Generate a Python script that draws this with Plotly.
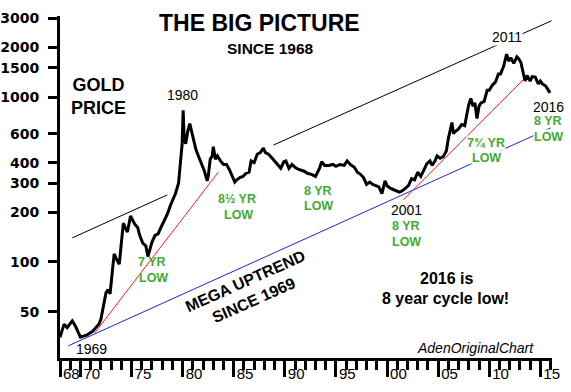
import plotly.graph_objects as go
import math

# ---------------- data ----------------
years = [1968.0, 1968.2, 1968.4, 1968.7, 1969.0, 1969.2, 1969.5, 1969.8, 1970.0, 1970.3,
         1970.6, 1970.9, 1971.2, 1971.5, 1971.8, 1972.0, 1972.3, 1972.5, 1972.7, 1972.9,
         1973.1, 1973.3, 1973.5, 1973.8, 1974.0, 1974.2, 1974.4, 1974.6, 1974.9, 1975.1,
         1975.3, 1975.6, 1975.8, 1976.1, 1976.4, 1976.6, 1976.8, 1977.0, 1977.3, 1977.6,
         1977.9, 1978.2, 1978.5, 1978.8, 1979.0, 1979.3, 1979.6, 1979.8, 1979.95, 1980.05,
         1980.15, 1980.3, 1980.5, 1980.7, 1980.9, 1981.1, 1981.3, 1981.6, 1981.8, 1982.1,
         1982.4, 1982.5, 1982.7, 1982.9, 1983.0, 1983.2, 1983.4, 1983.7, 1984.0, 1984.3,
         1984.6, 1984.9, 1985.1, 1985.3, 1985.6, 1985.9, 1986.2, 1986.5, 1986.7, 1987.0,
         1987.3, 1987.6, 1987.9, 1988.1, 1988.4, 1988.7, 1989.0, 1989.3, 1989.6, 1989.9,
         1990.1, 1990.4, 1990.7, 1991.0, 1991.3, 1991.6, 1991.9, 1992.2, 1992.6, 1993.0,
         1993.4, 1993.6, 1993.9, 1994.3, 1994.7, 1995.0, 1995.4, 1995.8, 1996.1, 1996.4,
         1996.8, 1997.1, 1997.4, 1997.7, 1998.0, 1998.3, 1998.6, 1998.9, 1999.2, 1999.5,
         1999.8, 2000.0, 2000.3, 2000.6, 2000.9, 2001.2, 2001.5, 2001.8, 2002.1, 2002.4,
         2002.7, 2003.0, 2003.3, 2003.6, 2003.9, 2004.2, 2004.4, 2004.7, 2004.9, 2005.2,
         2005.5, 2005.8, 2006.0, 2006.35, 2006.5, 2006.7, 2007.0, 2007.3, 2007.6, 2007.8,
         2008.0, 2008.2, 2008.4, 2008.6, 2008.8, 2009.0, 2009.2, 2009.5, 2009.8, 2010.0,
         2010.3, 2010.6, 2010.9, 2011.1, 2011.4, 2011.7, 2011.9, 2012.1, 2012.4, 2012.7,
         2012.9, 2013.1, 2013.3, 2013.5, 2013.7, 2014.0, 2014.2, 2014.5, 2014.8, 2015.0,
         2015.2, 2015.5, 2015.7, 2015.95]
gold = [35, 38, 42, 40, 42, 44, 41, 37, 35, 35.5,
        36, 37, 38, 40, 42, 45, 55, 65, 68, 64,
        85, 112, 105, 97, 130, 172, 160, 152, 190, 180,
        170, 162, 145, 130, 125, 108, 120, 132, 145, 148,
        163, 178, 195, 220, 235, 260, 300, 400, 520, 830,
        560, 520, 620, 690, 610, 520, 480, 430, 400, 360,
        310, 330, 420, 440, 500, 420, 440, 410, 390, 390,
        360, 330, 305, 315, 325, 330, 345, 350, 410, 400,
        450, 460, 490, 460, 450, 430, 410, 390, 370, 405,
        410, 370, 390, 375, 365, 360, 355, 345, 340, 330,
        370, 405, 385, 385, 390, 380, 390, 385, 410, 390,
        375, 350, 340, 325, 295, 305, 295, 290, 285, 260,
        310, 290, 280, 275, 270, 265, 270, 280, 290, 320,
        315, 350, 330, 360, 395, 410, 385, 410, 440, 425,
        435, 470, 560, 700, 600, 620, 640, 680, 670, 780,
        900, 980, 880, 920, 740, 880, 920, 940, 1100, 1100,
        1180, 1230, 1380, 1380, 1530, 1820, 1650, 1730, 1600, 1750,
        1700, 1620, 1420, 1250, 1350, 1250, 1330, 1320, 1200, 1250,
        1200, 1170, 1120, 1060]

# trend lines (year, price endpoints)
black1_x = [1969.2, 1978.5]
black1_y = [140, 255]
black2_x = [1988.9, 2016.1]
black2_y = [512, 2900]
red1_x = [1971.4, 1983.5]
red1_y = [37.2, 351]
red2_x = [2001.6, 2013.5]
red2_y = [238, 1303]
blue_x = [1968.8, 2016.0]
blue_y = [31.0, 649]

x_tickvals = [1968, 1970, 1975, 1980, 1985, 1990, 1995, 2000, 2005, 2010, 2015]
x_ticktext = ['68', '70', '75', '80', '85', '90', '95', '00', '05', '10', '15']
y_tickvals = [50, 100, 200, 300, 400, 600, 1000, 1500, 2000, 3000]
y_ticktext = [str(v) for v in y_tickvals]

# ---------------- layout helpers ----------------
W, H = 571, 392
ML, MR, MT, MB = 60, 19, 16, 34
PW, PH = W - ML - MR, H - MT - MB


def px(xp):
    return (xp - ML) / PW


def py(yp):
    return (H - MB - yp) / PH


fig = go.Figure()

fig.add_trace(go.Scatter(x=black1_x, y=black1_y, mode='lines',
                         line=dict(color='black', width=1), hoverinfo='skip'))
fig.add_trace(go.Scatter(x=black2_x, y=black2_y, mode='lines',
                         line=dict(color='black', width=1), hoverinfo='skip'))
fig.add_trace(go.Scatter(x=red1_x, y=red1_y, mode='lines',
                         line=dict(color='#ff2020', width=1), hoverinfo='skip'))
fig.add_trace(go.Scatter(x=red2_x, y=red2_y, mode='lines',
                         line=dict(color='#ff2020', width=1), hoverinfo='skip'))
fig.add_trace(go.Scatter(x=blue_x, y=blue_y, mode='lines',
                         line=dict(color='#2222dd', width=1), hoverinfo='skip'))
fig.add_trace(go.Scatter(x=years, y=gold, mode='lines',
                         line=dict(color='black', width=3)))

GREEN = '#44aa33'
annos = []


def txt(text, x, y, size, color='black', bold=False, italic=False, bg=None, angle=0):
    d = dict(text=text, x=px(x), y=py(y), xref='paper', yref='paper',
             showarrow=False, xanchor='center', yanchor='middle', textangle=angle,
             font=dict(family='Liberation Sans, Arial', size=size, color=color,
                       weight='bold' if bold else 'normal',
                       style='italic' if italic else 'normal'))
    if bg:
        d['bgcolor'] = bg
        d['borderpad'] = 0
    annos.append(d)


txt('THE BIG PICTURE', 259, 23, 23, bold=True)
txt('SINCE 1968', 270, 48, 15.5, bold=True)
txt('GOLD<br>PRICE', 98, 96, 18, bold=True)
txt('1980', 182, 95, 14)
txt('2011', 507, 37, 14, bg='white')
txt('2016', 548, 107, 14)
txt('8 YR', 548, 121, 12.5, color=GREEN, bold=True)
txt('LOW', 548, 137, 12.5, color=GREEN, bold=True, bg='white')
txt('7¾ YR', 486, 143, 12.5, color=GREEN, bold=True, bg='white')
txt('LOW', 486, 158, 12.5, color=GREEN, bold=True, bg='white')
txt('2001', 406, 210, 14)
txt('8 YR', 406, 226, 12.5, color=GREEN, bold=True)
txt('LOW', 406, 242, 12.5, color=GREEN, bold=True)
txt('7 YR', 152, 262, 12.5, color=GREEN, bold=True)
txt('LOW', 153, 278, 12.5, color=GREEN, bold=True)
txt('8½ YR', 237, 199, 12.5, color=GREEN, bold=True)
txt('LOW', 238, 215, 12.5, color=GREEN, bold=True)
txt('8 YR', 318, 191, 12.5, color=GREEN, bold=True)
txt('LOW', 318, 206, 12.5, color=GREEN, bold=True)
txt('MEGA UPTREND<br>SINCE 1969', 249, 291, 16, bold=True, angle=-24)
txt('2016 is', 446, 278, 16, bold=True)
txt('8 year cycle low!', 445, 298, 16, bold=True)
txt('AdenOriginalChart', 475, 348, 14, italic=True)
txt('1969', 91, 349, 14)

fig.update_layout(
    width=W, height=H,
    margin=dict(l=ML, r=MR, t=MT, b=MB, autoexpand=False),
    paper_bgcolor='white', plot_bgcolor='white',
    showlegend=False,
    annotations=annos,
    xaxis=dict(range=[1968, 1968 + PW / 10.22], showgrid=False, zeroline=False,
               automargin=False,
               showline=True, linecolor='black', linewidth=3,
               tickmode='array', tickvals=x_tickvals, ticktext=x_ticktext,
               ticks='outside', ticklen=16, tickwidth=3, tickcolor='black',
               ticklabelposition='outside right', tickangle=0,
               tickfont=dict(family='Liberation Sans, Arial', size=15, color='black'),
               minor=dict(dtick=1, tick0=1968, ticks='outside', ticklen=9,
                          tickwidth=3, tickcolor='black', showgrid=False)),
    yaxis=dict(type='log', range=[1.418, 3.491], showgrid=False, zeroline=False,
               automargin=False,
               showline=True, linecolor='black', linewidth=3,
               tickmode='array', tickvals=y_tickvals, ticktext=y_ticktext,
               ticks='outside', ticklen=9, tickwidth=3, tickcolor='black',
               ticklabelstandoff=6,
               tickfont=dict(family='DejaVu Sans', size=14, color='black', weight='bold')),
)

fig.write_html('out.html', config={'displayModeBar': False},
               post_script="document.body.style.margin='0';document.body.style.overflow='hidden';")
